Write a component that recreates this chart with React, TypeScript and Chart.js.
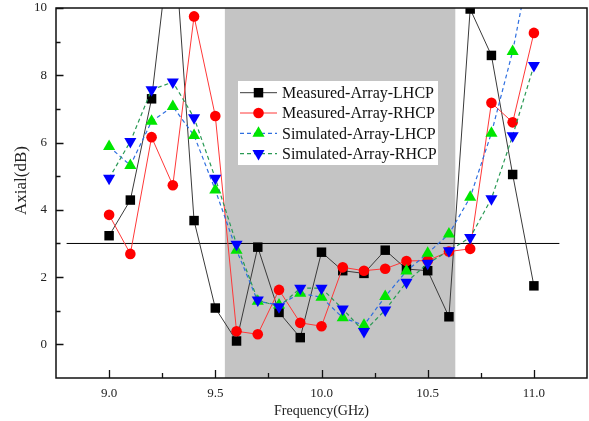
import React, { useEffect, useRef } from "react";
import { Chart, registerables } from "chart.js";

Chart.register(...registerables);

const frequencies = [9.0, 9.1, 9.2, 9.3, 9.4, 9.5, 9.6, 9.7, 9.8, 9.9, 10.0, 10.1, 10.2, 10.3, 10.4, 10.5, 10.6, 10.7, 10.8, 10.9, 11.0];
const measuredLHCP = [3.23, 4.29, 7.3, 12.7, 3.68, 1.08, 0.1, 2.89, 0.95, 0.2, 2.74, 2.19, 2.11, 2.8, 2.24, 2.19, 0.82, 9.97, 8.59, 5.05, 1.74];
const measuredRHCP = [3.85, 2.69, 6.16, 4.73, 9.75, 6.79, 0.39, 0.3, 1.62, 0.64, 0.54, 2.29, 2.19, 2.25, 2.48, 2.49, 2.76, 2.84, 7.18, 6.6, 9.26];
const simulatedLHCP = [5.88, 5.32, 6.63, 7.07, 6.21, 4.59, 2.8, 1.28, 1.17, 1.52, 1.4, 0.79, 0.57, 1.42, 2.18, 2.71, 3.28, 4.37, 6.28, 8.71, 11.9];
const simulatedRHCP = [4.94, 6.03, 7.57, 7.8, 6.74, 4.94, 2.98, 1.32, 1.12, 1.67, 1.67, 1.05, 0.38, 1.02, 1.85, 2.41, 2.78, 3.18, 4.33, 6.2, 8.29];

const seriesNames = ["Measured-Array-LHCP", "Measured-Array-RHCP", "Simulated-Array-LHCP", "Simulated-Array-RHCP"];
const xTicks = [9.0, 9.5, 10.0, 10.5, 11.0];
const yTicks = [0, 2, 4, 6, 8, 10];
const xMinorTicks = [9.25, 9.75, 10.25, 10.75];
const yMinorTicks = [1, 3, 5, 7, 9];
const bandRange = [9.545, 10.63];
const thresholdX = [8.8, 11.12];
const thresholdValue = 3;
const xTitle = "Frequency(GHz)";
const yTitle = "Axial(dB)";

const FONT = '"Liberation Serif", "Times New Roman", serif';

const styles = [
  { line: "#3a3a3a", marker: "#000000", shape: "rect", dash: [] as number[], radius: 6.7, lw: 1 },
  { line: "#ff3838", marker: "#ff0000", shape: "circle", dash: [] as number[], radius: 5.3, lw: 1 },
  { line: "#2f6fe0", marker: "#00e600", shape: "triangle", dash: [4, 3], radius: 7, lw: 1.2 },
  { line: "#2a9a55", marker: "#0000ff", shape: "triangleDown", dash: [4, 3], radius: 7, lw: 1.2 },
];

function drawMarker(ctx: CanvasRenderingContext2D, shape: string, x: number, y: number, r: number, color: string) {
  ctx.save();
  ctx.fillStyle = color;
  ctx.beginPath();
  if (shape === "rect") {
    const s = r * Math.SQRT1_2;
    ctx.rect(x - s, y - s, 2 * s, 2 * s);
  } else if (shape === "circle") {
    ctx.arc(x, y, r, 0, Math.PI * 2);
  } else {
    const d = shape === "triangle" ? 1 : -1;
    const w = r * Math.sin((2 * Math.PI) / 3);
    ctx.moveTo(x, y - d * r);
    ctx.lineTo(x + w, y + d * r * 0.5);
    ctx.lineTo(x - w, y + d * r * 0.5);
    ctx.closePath();
  }
  ctx.fill();
  ctx.restore();
}

const decorPlugin = {
  id: "decor",
  beforeDatasetsDraw(chart: any) {
    const { ctx, chartArea: a, scales } = chart;
    const x0 = scales.x.getPixelForValue(bandRange[0]);
    const x1 = scales.x.getPixelForValue(bandRange[1]);
    ctx.save();
    ctx.fillStyle = "#c4c4c4";
    ctx.fillRect(x0, a.top, x1 - x0, a.bottom - a.top);
    ctx.restore();
  },
  afterDatasetsDraw(chart: any) {
    const { ctx, chartArea: a, scales } = chart;
    ctx.save();
    ctx.strokeStyle = "#111";
    ctx.lineWidth = 1.5;
    ctx.strokeRect(a.left, a.top, a.right - a.left, a.bottom - a.top);
    ctx.lineWidth = 1.3;
    ctx.beginPath();
    xTicks.forEach((v) => {
      const p = Math.round(scales.x.getPixelForValue(v)) + 0.5;
      ctx.moveTo(p, a.bottom);
      ctx.lineTo(p, a.bottom - 8);
    });
    xMinorTicks.forEach((v) => {
      const p = Math.round(scales.x.getPixelForValue(v)) + 0.5;
      ctx.moveTo(p, a.bottom);
      ctx.lineTo(p, a.bottom - 5);
    });
    yTicks.forEach((v) => {
      const p = Math.round(scales.y.getPixelForValue(v)) + 0.5;
      ctx.moveTo(a.left, p);
      ctx.lineTo(a.left + 7.5, p);
    });
    yMinorTicks.forEach((v) => {
      const p = Math.round(scales.y.getPixelForValue(v)) + 0.5;
      ctx.moveTo(a.left, p);
      ctx.lineTo(a.left + 4.5, p);
    });
    ctx.stroke();
    ctx.restore();
  },
  afterDraw(chart: any) {
    const { ctx } = chart;
    ctx.save();
    ctx.translate(22, 180.5);
    ctx.rotate(-Math.PI / 2);
    ctx.fillStyle = "#222";
    ctx.font = `17px ${FONT}`;
    ctx.textAlign = "center";
    ctx.textBaseline = "middle";
    ctx.fillText(yTitle, 0, 0);
    ctx.restore();

    const lx = 238, ly = 81, lw = 200, lh = 84;
    ctx.save();
    ctx.fillStyle = "#ffffff";
    ctx.fillRect(lx, ly, lw, lh);
    seriesNames.forEach((name, i) => {
      const st = styles[i];
      const y = 92.7 + i * 20.3;
      ctx.save();
      ctx.strokeStyle = st.line;
      ctx.lineWidth = st.lw;
      ctx.setLineDash(st.dash);
      ctx.beginPath();
      ctx.moveTo(240, y);
      ctx.lineTo(277, y);
      ctx.stroke();
      ctx.restore();
      drawMarker(ctx, st.shape, 258.5, y, st.radius, st.marker);
      ctx.fillStyle = "#111";
      ctx.font = `16px ${FONT}`;
      ctx.textBaseline = "middle";
      ctx.textAlign = "left";
      ctx.fillText(name, 282, y + 1);
    });
    ctx.restore();
  },
};

export default function App() {
  const canvasRef = useRef<HTMLCanvasElement | null>(null);

  useEffect(() => {
    document.body.style.margin = "0";
    const canvas = canvasRef.current;
    if (!canvas) return;
    const seriesValues = [measuredLHCP, measuredRHCP, simulatedLHCP, simulatedRHCP];
    const orders = [3, 2, 1, 0];
    const datasets: any[] = seriesValues.map((vals, i) => {
      const st = styles[i];
      return {
        label: seriesNames[i],
        data: frequencies.map((f, k) => ({ x: f, y: vals[k] })),
        borderColor: st.line,
        borderWidth: st.lw,
        borderDash: st.dash,
        backgroundColor: st.marker,
        pointBackgroundColor: st.marker,
        pointBorderColor: st.marker,
        pointBorderWidth: 0,
        pointRadius: st.radius,
        pointStyle: st.shape === "triangleDown" ? "triangle" : st.shape,
        pointRotation: st.shape === "triangleDown" ? 180 : 0,
        tension: 0,
        order: orders[i],
      };
    });
    datasets.push({
      label: "3dB",
      data: thresholdX.map((x) => ({ x, y: thresholdValue })),
      borderColor: "#000000",
      borderWidth: 1,
      pointRadius: 0,
      order: 4,
    });

    const chart = new Chart(canvas, {
      type: "line",
      data: { datasets },
      plugins: [decorPlugin],
      options: {
        animation: false,
        responsive: false,
        maintainAspectRatio: false,
        layout: { autoPadding: false, padding: { top: 8, right: 2, left: 0, bottom: 0 } },
        plugins: { legend: { display: false }, tooltip: { enabled: false } },
        scales: {
          x: {
            type: "linear",
            min: 8.75,
            max: 11.25,
            grid: { display: false, drawTicks: false },
            border: { display: false },
            afterBuildTicks: (scale: any) => {
              scale.ticks = xTicks.map((v) => ({ value: v }));
            },
            afterFit: (scale: any) => {
              scale.height = 43;
              scale.paddingLeft = 0;
              scale.paddingRight = 0;
            },
            ticks: {
              padding: 8,
              color: "#222",
              font: { family: FONT, size: 13 },
              callback: (v: any) => Number(v).toFixed(1),
            },
            title: {
              display: true,
              text: xTitle,
              color: "#222",
              font: { family: FONT, size: 14 },
              padding: { top: 0, bottom: 1 },
            },
          },
          y: {
            type: "linear",
            min: -1,
            max: 10,
            grid: { display: false, drawTicks: false },
            border: { display: false },
            afterBuildTicks: (scale: any) => {
              scale.ticks = yTicks.map((v) => ({ value: v }));
            },
            afterFit: (scale: any) => {
              scale.width = 56;
              scale.paddingTop = 0;
              scale.paddingBottom = 0;
            },
            ticks: {
              padding: 9,
              color: "#222",
              font: { family: FONT, size: 13 },
              callback: (v: any) => String(v),
            },
          },
        },
      },
    });
    return () => chart.destroy();
  }, []);

  return (
    <div style={{ width: 589, height: 421, background: "#ffffff" }}>
      <canvas ref={canvasRef} width={589} height={421} style={{ display: "block" }} />
    </div>
  );
}
